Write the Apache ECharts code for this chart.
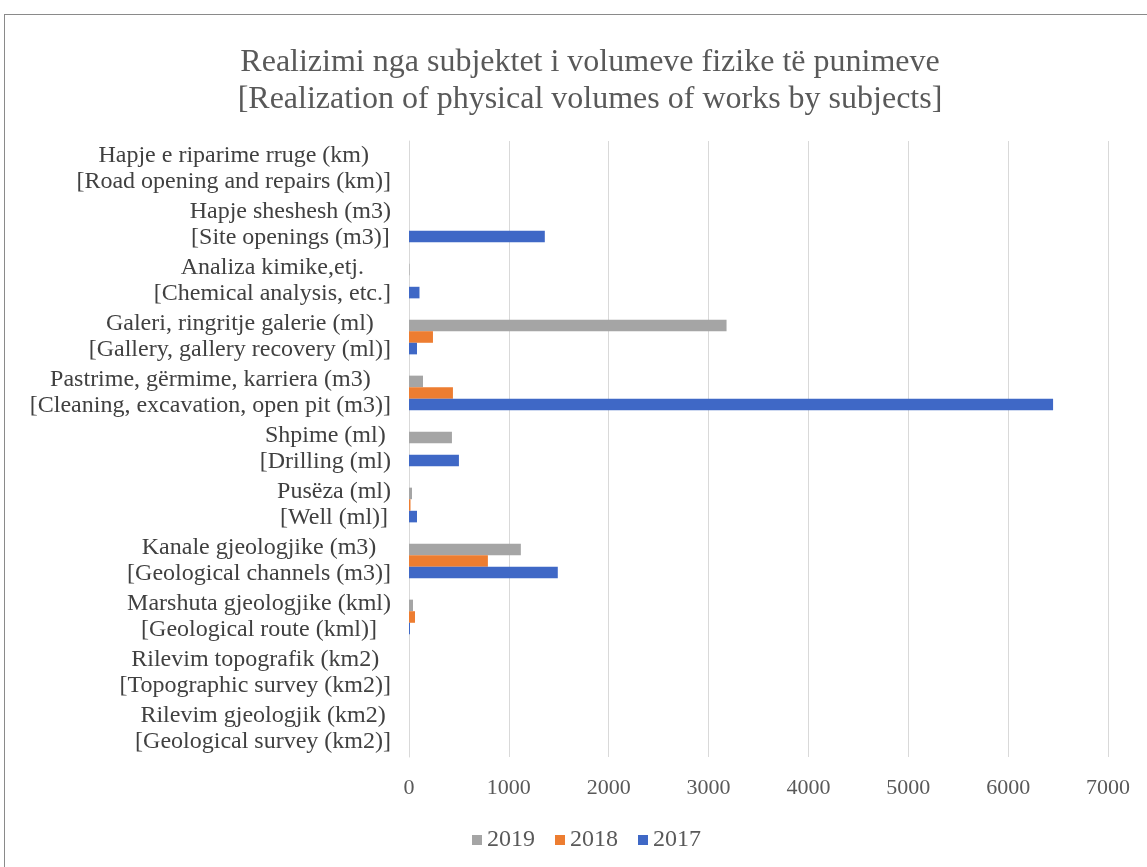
<!DOCTYPE html>
<html>
<head>
<meta charset="utf-8">
<script src="https://cdn.jsdelivr.net/npm/echarts@6/dist/echarts.min.js"></script>
<style>
  body { margin: 0; background: #fff; }
  #wrap { position: relative; width: 1147px; height: 867px; }
  #frame { position: absolute; left: 4px; top: 14px; right: 0; bottom: 0;
           border-top: 1px solid #8a8a8a; border-left: 1px solid #8a8a8a; }
  #chart { position: absolute; left: 0; top: 0; width: 1147px; height: 867px; }
</style>
</head>
<body>
<div id="wrap">
  <div id="frame"></div>
  <div id="chart"></div>
</div>
<script>
// categories, top to bottom (Albanian line / English line)
var catAl = [
    'Hapje e riparime rruge (km)',
    'Hapje sheshesh (m3)',
    'Analiza kimike,etj.',
    'Galeri, ringritje galerie (ml)',
    'Pastrime, gërmime, karriera (m3)',
    'Shpime (ml)',
    'Pusëza (ml)',
    'Kanale gjeologjike (m3)',
    'Marshuta gjeologjike (kml)',
    'Rilevim topografik (km2)',
    'Rilevim gjeologjik (km2)'
];
var catEn = [
    '[Road opening and repairs (km)]',
    '[Site openings (m3)]',
    '[Chemical analysis, etc.]',
    '[Gallery, gallery recovery (ml)]',
    '[Cleaning, excavation, open pit (m3)]',
    '[Drilling (ml)',
    '[Well (ml)]',
    '[Geological channels (m3)]',
    '[Geological route (kml)]',
    '[Topographic survey (km2)]',
    '[Geological survey (km2)]'
];

var data2019 = [0, 0, 5, 3180, 140, 430, 30, 1120, 40, 0, 0];
var data2018 = [0, 0, 0, 240, 440, 0, 15, 790, 60, 0, 0];
var data2017 = [0, 1360, 105, 80, 6450, 500, 80, 1490, 10, 0, 0];

var xTicks = [0, 1000, 2000, 3000, 4000, 5000, 6000, 7000];

var categories = catAl.map(function (a, i) { return a + '\n' + catEn[i]; });
var serif = '"Liberation Serif", "Times New Roman", serif';

var years = [
    ['2019', data2019, '#a5a5a5'],
    ['2018', data2018, '#ed7d31'],
    ['2017', data2017, '#3f68c6']
];

var series = years.map(function (y) {
    return {
        name: y[0],
        type: 'bar',
        data: y[1],
        barGap: '0%',
        barCategoryGap: '38%',
        itemStyle: { color: y[2] }
    };
});

var chart = echarts.init(document.getElementById('chart'));
chart.setOption({
    animation: false,
    textStyle: { fontFamily: serif },
    title: {
        text: 'Realizimi nga subjektet i volumeve fizike të punimeve\n[Realization of physical volumes of works by subjects]',
        left: 585,
        textAlign: 'center',
        top: 39,
        textStyle: {
            fontFamily: serif,
            fontWeight: 'normal',
            fontSize: 32,
            lineHeight: 37,
            color: '#595959'
        }
    },
    legend: {
        data: ['2019', '2018', '2017'],
        left: 467,
        top: 823,
        icon: 'rect',
        itemWidth: 10,
        itemHeight: 10,
        itemGap: 20,
        textStyle: { fontFamily: serif, fontSize: 24, color: '#595959' }
    },
    grid: { left: 409, right: 39, top: 141, bottom: 110 },
    xAxis: {
        type: 'value',
        min: xTicks[0],
        max: xTicks[xTicks.length - 1],
        interval: 1000,
        axisLine: { show: false },
        axisTick: { show: false },
        splitLine: { lineStyle: { color: '#d9d9d9' } },
        axisLabel: {
            fontFamily: serif, fontSize: 22, color: '#595959', margin: 20,
            formatter: function (v) { return String(v); }
        }
    },
    yAxis: {
        type: 'category',
        inverse: true,
        data: categories,
        axisLine: { lineStyle: { color: '#d9d9d9' } },
        axisTick: { show: false },
        axisLabel: {
            align: 'right',
            margin: 18,
            formatter: function (v) {
                var p = v.split('\n');
                return '{c|' + p[0] + '}\n{c|' + p[1] + '}';
            },
            rich: {
                c: {
                    align: 'center',
                    fontFamily: serif,
                    fontSize: 24,
                    lineHeight: 26,
                    color: '#404040'
                }
            }
        }
    },
    series: series
});
</script>
</body>
</html>
